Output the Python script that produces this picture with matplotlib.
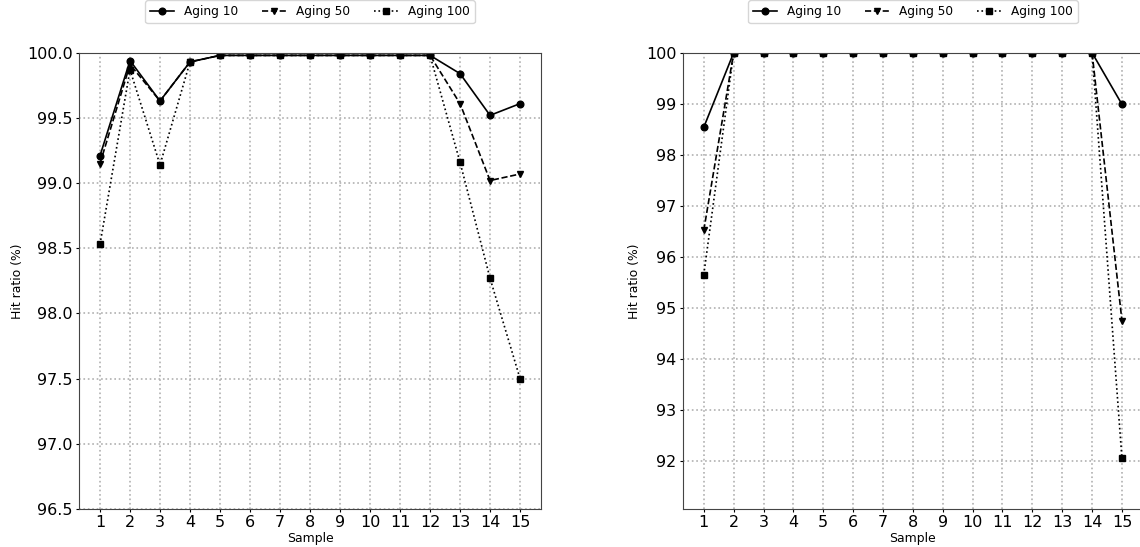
import numpy as np
import matplotlib
matplotlib.use("Agg")
import matplotlib.pyplot as plt

samples = list(range(1, 16))
labels = ["Aging 10", "Aging 50", "Aging 100"]

# left panel
left_aging10 = [99.21, 99.94, 99.63, 99.93, 99.98, 99.98, 99.98, 99.98, 99.98, 99.98, 99.98, 99.98, 99.84, 99.52, 99.61]
left_aging50 = [99.15, 99.91, 99.63, 99.93, 99.98, 99.98, 99.98, 99.98, 99.98, 99.98, 99.98, 99.98, 99.61, 99.02, 99.07]
left_aging100 = [98.53, 99.87, 99.14, 99.93, 99.98, 99.98, 99.98, 99.98, 99.98, 99.98, 99.98, 99.98, 99.16, 98.27, 97.50]

# right panel
right_aging10 = [98.54, 100, 100, 100, 100, 100, 100, 100, 100, 100, 100, 100, 100, 100, 98.99]
right_aging50 = [96.52, 100, 100, 100, 100, 100, 100, 100, 100, 100, 100, 100, 100, 100, 94.75]
right_aging100 = [95.65, 100, 100, 100, 100, 100, 100, 100, 100, 100, 100, 100, 100, 100, 92.05]

styles = [("-", "o"), ("--", "v"), (":", "s")]

fig = plt.figure(figsize=(11.4, 5.47), dpi=100)
ax1 = fig.add_axes([0.0693, 0.0695, 0.4053, 0.834])
# right panel: its right spine falls just outside the figure
ax2 = fig.add_axes([0.599, 0.0695, 0.4035, 0.834])


def draw(ax, series, ylim, yticks, fmt, pad):
    for vals, lab, (ls, mk) in zip(series, labels, styles):
        ax.plot(samples, vals, color="black", linestyle=ls, marker=mk,
                markersize=4.8, linewidth=1.2, label=lab)
    ax.set_xlim(0.3, 15.7)
    ax.set_ylim(*ylim)
    ax.set_xticks(samples)
    ax.set_yticks(yticks)
    ax.set_yticklabels([fmt.format(t) for t in yticks])
    ax.tick_params(labelsize=11.5, length=2.5, pad=2)
    ax.grid(True, linestyle=":", color="#b0b0b0", linewidth=1.2)
    ax.set_xlabel("Sample", fontsize=8.9, labelpad=1)
    ax.set_ylabel("Hit ratio (%)", fontsize=8.9, labelpad=pad)
    for sp in ax.spines.values():
        sp.set_color("#444444")
    ax.legend(loc="lower center", bbox_to_anchor=(0.5, 1.052), ncol=3,
              fontsize=8.7, handlelength=2.0, columnspacing=2.0)


draw(ax1, [left_aging10, left_aging50, left_aging100], (96.5, 100.0),
     [96.5, 97.0, 97.5, 98.0, 98.5, 99.0, 99.5, 100.0], "{:.1f}", 2)
draw(ax2, [right_aging10, right_aging50, right_aging100], (91.06, 100),
     [92, 93, 94, 95, 96, 97, 98, 99, 100], "{:.0f}", 3.5)

fig.savefig("out.png", dpi=100)
